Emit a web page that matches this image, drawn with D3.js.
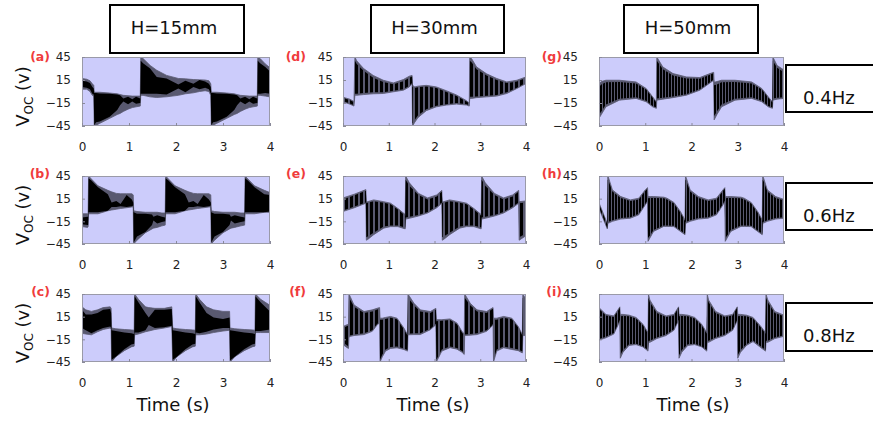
<!DOCTYPE html>
<html><head><meta charset="utf-8">
<script src="https://cdn.jsdelivr.net/npm/d3@7"></script>
<style>
body{margin:0;background:#fff;}
svg{display:block;}
</style></head><body>
<svg id="c" width="873" height="423"></svg>
<script>
const timeTicks = [0, 1, 2, 3, 4];
const voltTicks = [-45, -15, 15, 45];
const heightLabels = ["H=15mm", "H=30mm", "H=50mm"];
const freqLabels = ["0.4Hz", "0.6Hz", "0.8Hz"];
const panelLabels = [["(a)", "(b)", "(c)"], ["(d)", "(e)", "(f)"], ["(g)", "(h)", "(i)"]];

// rows: [time (s), outer upper V, outer lower V, inner upper V, inner lower V]
const panelA = [
  [0.00, 17, 3, 14, 6], [0.10, 16, 3, 13, 5], [0.17, 14, 0, 11, 3], [0.22, 10, -5, 6, -3], [0.25, 8, -6, 4, -4],
  [0.26, -1, -45, -2, -44], [0.30, -1, -44, -2, -40], [0.38, -1, -41.5, -2.5, -39], [0.59, -2, -35, -3, -33],
  [0.75, -3, -30, -4, -24], [0.81, -4, -28.6, -5, -18], [0.88, -5, -26, -9, -13], [0.98, -5.5, -23, -7, -16.5],
  [1.07, -6, -21, -10, -13], [1.15, -6, -20, -7, -16], [1.24, -6, -19, -9, -15],
  [1.25, 45, -5, 40, -3], [1.30, 43, -5, 37, -3], [1.45, 34, -7, 30, -3], [1.59, 27.7, -7.8, 19, -3],
  [1.80, 21, -6.9, 17, -4], [2.05, 17, -5, 9, 4], [2.20, 16.5, -3, 14, -1], [2.37, 15.6, -1.7, 10, 6],
  [2.50, 15.2, 0, 15, 3], [2.62, 15, 1, 13, 5], [2.70, 14, 0, 10, 3], [2.74, 10, -5, 6, -3],
  [2.75, -1, -45, -2, -44], [2.79, -1, -44, -2, -40], [2.87, -1, -41.5, -2.5, -39], [3.08, -2, -35, -3, -33],
  [3.24, -3, -30, -4, -24], [3.30, -4, -28.6, -5, -18], [3.37, -5, -26, -9, -13], [3.47, -5.5, -23, -7, -16.5],
  [3.56, -6, -21, -10, -13], [3.64, -6, -20, -7, -16], [3.73, -6, -19, -9, -15],
  [3.74, 45, -5, 40, -3], [3.79, 43, -5, 37, -3], [3.90, 36, -6, 32, -2], [4.00, 31, -7, 26, -3]
];
const panelB = [
  [0.00, -5, -22, -10, -19], [0.12, -5, -23, -9, -20], [0.13, -5, -22, -9, -20],
  [0.14, 45, -5, 42, -3], [0.20, 41, -5, 39, -3], [0.34, 32, -5, 30, -3], [0.55, 26, -1, 21, -1],
  [0.63, 24, 0, 10, 4], [0.73, 22, 1, 12, 4], [0.82, 21.5, 2, 8, 5], [0.95, 21.5, 3, 20, 4],
  [1.06, 21.5, 4, 14, 5], [1.09, 20, 4, 10, 6],
  [1.10, -1, -45, -3, -43], [1.17, -2, -40, -5, -35], [1.35, -3, -30, -5, -29], [1.49, -3, -25, -6, -20],
  [1.52, -3, -24, -9, -14], [1.60, -3, -23, -7, -18], [1.70, -4, -21, -9, -16], [1.77, -4, -20, -10, -15],
  [1.78, 45, -5, 42, -3], [1.84, 41, -5, 39, -3], [1.98, 32, -5, 30, -3], [2.19, 26, -1, 21, -1],
  [2.27, 24, 0, 10, 4], [2.37, 22, 1, 12, 4], [2.46, 21.5, 2, 8, 5], [2.59, 21.5, 3, 20, 4],
  [2.70, 21.5, 4, 14, 5], [2.74, 20, 4, 10, 6],
  [2.75, -1, -45, -3, -43], [2.82, -2, -40, -5, -35], [3.00, -3, -30, -5, -29], [3.14, -3, -25, -6, -20],
  [3.17, -3, -24, -9, -14], [3.25, -3, -23, -7, -18], [3.38, -4, -21, -9, -16], [3.46, -4, -20, -10, -15],
  [3.47, 45, -5, 42, -3], [3.53, 41, -5, 39, -3], [3.67, 32, -5, 30, -3], [3.88, 26, -3, 21, -3],
  [4.00, 23, -3, 20, -2]
];
const panelC = [
  [0.00, 28, -7, 24, 0], [0.08, 24, -8, 18, -3], [0.20, 22, -9, 18, -7], [0.33, 24, -5, 20, -3],
  [0.45, 27, -2, 24, 0], [0.60, 28, 0, 25, 2], [0.62, 26, -2, 20, 0],
  [0.63, 0, -45, -3, -42], [0.72, -1, -38, -4, -38], [0.90, -2, -30, -6, -28], [1.05, -2.5, -25, -7, -22],
  [1.11, -3, -24, -8, -21],
  [1.12, 45, -9, 42, -6], [1.20, 38, -8, 34, -6], [1.35, 28, -5, 20, -3], [1.42, 27, -4, 14, 4],
  [1.55, 26, -2, 24, 0], [1.75, 26, 0, 24, 1], [1.91, 28, 2, 25, 3],
  [1.93, 0, -45, -3, -42], [2.02, -1, -38, -4, -38], [2.20, -2, -30, -6, -28], [2.35, -2.5, -25, -7, -22],
  [2.41, -3, -24, -8, -21],
  [2.42, 45, -9, 42, -6], [2.50, 38, -9, 34, -7], [2.65, 28, -8, 20, -5], [2.80, 24, -6, 14, -2],
  [3.00, 22, -4, 12, 0], [3.14, 22, -3, 14, 0],
  [3.15, 0, -45, -3, -43], [3.25, -1, -38, -4, -38], [3.45, -2, -30, -6, -28], [3.62, -2.5, -25, -7, -22],
  [3.68, -3, -24, -8, -21],
  [3.69, 45, -6, 42, -4], [3.80, 38, -6, 34, -4], [4.00, 30, -6, 22, -2]
];
const panelD = [
  [0.00, -7.5, -13.5, -8.5, -12.5], [0.15, -10, -16.5, -11, -15.5], [0.24, -13, -19, -14, -18],
  [0.26, 45, -5, 40, -3], [0.30, 40, -5, 36, -3], [0.45, 30, -4, 27, -2], [0.66, 21, -3, 18, -1],
  [0.88, 14.7, -2.6, 12.5, -1], [1.10, 11.2, -0.4, 9.5, 1], [1.32, 15.6, 1.7, 13.5, 3],
  [1.45, 20, 6, 18, 7.5], [1.51, 21, 10, 19.5, 11],
  [1.52, 8, -45, 6, -42], [1.57, 6, -40, 4.5, -37], [1.64, 7, -34, 5.5, -31], [1.82, 8, -25, 6.5, -23],
  [2.04, 6, -20, 4.5, -18.5], [2.26, 1, -17.7, -0.5, -16.5], [2.48, -4.5, -16.4, -6, -15],
  [2.70, -12, -17.7, -13, -16.5], [2.76, -15, -19, -15.5, -18],
  [2.77, 45, -9, 40, -7], [2.81, 43, -9, 38, -7], [2.92, 32, -8, 29, -6.5], [3.14, 23, -7, 21, -5.5],
  [3.36, 17, -6, 15, -4.5], [3.58, 12.5, -2.6, 11, -1], [3.80, 14.7, 3.9, 13, 5], [4.00, 19, 10.4, 17.5, 11.5]
];
const panelE = [
  [0.00, 16, -2, 14, -0.5], [0.25, 21, 3, 19.5, 4.5], [0.50, 27, 9, 25.5, 10],
  [0.51, 11, -40, 9, -36], [0.54, 11, -39, 9.5, -35], [0.67, 13.4, -32.7, 11.5, -30], [0.89, 11, -24, 9.5, -22],
  [1.04, 9, -22, 7.5, -20.5], [1.20, 2, -22, 0.5, -20.5], [1.36, -6, -25, -7.5, -23],
  [1.37, 45, -12, 40, -10], [1.45, 36, -11, 32, -9], [1.65, 22, -8, 20, -6.5], [1.85, 16, -4, 14, -2.5],
  [2.05, 20, 3, 18, 4.5], [2.16, 26, 9, 24.5, 10],
  [2.17, 11, -40, 9, -36], [2.20, 11, -39, 9.5, -35], [2.33, 13.4, -32.7, 11.5, -30], [2.55, 11, -24, 9.5, -22],
  [2.70, 9, -22, 7.5, -20.5], [2.86, 2, -22, 0.5, -20.5], [3.02, -6, -25, -7.5, -23],
  [3.03, 45, -12, 40, -10], [3.11, 36, -11, 32, -9], [3.31, 22, -8, 20, -6.5], [3.51, 16, -4, 14, -2.5],
  [3.71, 20, 3, 18, 4.5], [3.84, 26, 9, 24.5, 10],
  [3.85, 11, -40, 9, -36], [4.00, 12, -34, 10, -31]
];
const panelF = [
  [0.00, 2, -22, 0, -19], [0.09, 4.4, -26, 2.5, -23], [0.12, 5, -27, 3, -24],
  [0.13, 45, -12, 40, -10], [0.17, 40, -11, 36, -9.5], [0.24, 30.6, -10, 28, -8.5], [0.46, 21.8, -8.7, 20, -7],
  [0.64, 24, -4.4, 22, -3], [0.75, 26.2, 4.4, 24.5, 5.5], [0.80, 27, 6.6, 25.5, 7.5],
  [0.81, 13, -45, 11, -42], [0.86, 13, -38, 11, -35], [0.93, 14, -30.6, 12, -28.5], [1.04, 15.3, -27, 13.5, -25],
  [1.18, 13, -26.2, 11.5, -24.5], [1.33, 0, -28.4, -1.5, -27], [1.41, -8.7, -30.6, -10, -29],
  [1.42, 45, -9, 40, -7.5], [1.55, 32.8, -8.7, 30, -7], [1.69, 24, -8.7, 22, -7], [1.91, 21.8, -2.2, 20, -1],
  [2.03, 26, 4.4, 24.5, 5.5],
  [2.04, 11, -45, 9, -42], [2.16, 11, -30.6, 9.5, -28.5], [2.34, 12, -26, 10.5, -24.5], [2.49, 6.6, -28, 5, -26.5],
  [2.60, -4.4, -32, -6, -30.5], [2.65, -8, -35, -9.5, -33],
  [2.66, 45, -10, 40, -8.5], [2.78, 32.8, -9.5, 30, -8], [2.93, 24, -8.7, 22, -7], [3.14, 21.8, -4.4, 20, -3],
  [3.25, 26, 2, 24.5, 3], [3.28, 27, 4.4, 25.5, 5.5],
  [3.29, 13, -45, 11, -42], [3.36, 13, -30.6, 11, -28.5], [3.51, 15.3, -26.2, 13.5, -24.5], [3.69, 13, -28.4, 11.5, -26.5],
  [3.83, 2, -30, 0.5, -28.5], [3.92, -8.7, -33, -10, -31],
  [3.93, 45, -10, 40, -8.5], [4.00, 38, -10, 34, -8.5]
];
const panelG = [
  [0.00, 10, -35, 6, -30], [0.05, 13, -30, 9, -26], [0.15, 14.7, -20, 12, -17], [0.44, 14.7, -11.3, 12.5, -9.5],
  [0.80, 12.5, -9, 10.5, -7.5], [1.02, 3.9, -13.4, 2.5, -12], [1.16, -7, -20, -8, -19], [1.24, -13.4, -22, -14.5, -21],
  [1.25, 45, -11.3, 40, -9], [1.38, 32, -10, 29, -8], [1.60, 23.4, -8, 21, -6.5], [1.89, 19, -4.8, 17, -3.5],
  [2.18, 18.2, 1.7, 16.5, 3], [2.40, 23.4, 11.2, 22, 12], [2.48, 25, 14.7, 24, 15.5],
  [2.49, 12, -37, 8, -32], [2.55, 13, -30, 9, -26], [2.65, 14.7, -20, 12, -17], [2.94, 14.7, -11.3, 12.5, -9.5],
  [3.30, 12.5, -9, 10.5, -7.5], [3.52, 3.9, -13.4, 2.5, -12], [3.66, -7, -20, -8, -19], [3.75, -13.4, -22, -14.5, -21],
  [3.76, 45, -11.3, 40, -9], [3.85, 34, -10, 31, -8], [4.00, 28, -9, 25, -7.5]
];
const panelH = [
  [0.00, 9.5, 2, 8, 3.5], [0.18, -18, -25, -19, -24],
  [0.19, 45, -17.3, 40, -15.5], [0.21, 42, -17.3, 38, -15.5], [0.29, 26.6, -15, 24.5, -13.5], [0.47, 17.8, -12, 16, -10.5],
  [0.68, 13.4, -10.8, 12, -9.5], [0.86, 15.6, -6.4, 14, -5], [1.00, 26.6, 6.8, 25, 8], [1.05, 29.6, 11.2, 28.5, 12.5],
  [1.06, 17.8, -41.5, 15.5, -37], [1.11, 17.8, -36, 16, -33], [1.18, 17.8, -28.3, 16, -26.5], [1.40, 17, -21.7, 15.5, -20.5],
  [1.47, 15.6, -21.7, 14, -20.5], [1.62, 10, -22, 8.5, -21], [1.76, -2, -28.3, -3.5, -27], [1.86, -13, -32.7, -14.5, -31.5],
  [1.87, 45, -17.3, 40, -15.5], [1.89, 42, -17.3, 38, -15.5], [1.97, 26.6, -15, 24.5, -13.5], [2.15, 17.8, -12, 16, -10.5],
  [2.36, 13.4, -10.8, 12, -9.5], [2.54, 15.6, -6.4, 14, -5], [2.68, 26.6, 6.8, 25, 8], [2.72, 29.6, 11.2, 28.5, 12.5],
  [2.73, 17.8, -41.5, 15.5, -37], [2.78, 17.8, -36, 16, -33], [2.85, 17.8, -28.3, 16, -26.5], [3.07, 17, -21.7, 15.5, -20.5],
  [3.14, 15.6, -21.7, 14, -20.5], [3.29, 10, -22, 8.5, -21], [3.43, -2, -28.3, -3.5, -27], [3.53, -13, -32.7, -14.5, -31.5],
  [3.54, 45, -17.3, 40, -15.5], [3.56, 42, -17.3, 38, -15.5], [3.64, 26.6, -15, 24.5, -13.5], [3.82, 17.8, -12, 16, -10.5],
  [4.00, 14, -10.8, 12.5, -9.5]
];
const panelI = [
  [0.00, 27, -16, 25, -14.5], [0.15, 18, -13, 16.5, -11.5], [0.32, 16, -8, 14.5, -6.5], [0.42, 25, 5, 23.5, 6.5],
  [0.45, 28, 10, 27, 11],
  [0.46, 18, -40, 15.5, -36], [0.52, 18, -32, 16, -29], [0.65, 17, -23, 15.5, -21.5], [0.80, 14, -22, 12.5, -21],
  [0.95, 5, -25, 3.5, -24], [1.06, -6, -30.6, -7.5, -29],
  [1.07, 45, -19, 40, -17], [1.10, 37, -19, 34, -17], [1.25, 22, -14, 20, -12.5], [1.45, 16, -10, 14.5, -8.5],
  [1.62, 18, -3, 16.5, -1.5], [1.72, 28, 10, 27, 11],
  [1.73, 18, -40, 15.5, -36], [1.79, 18, -32, 16, -29], [1.92, 17, -23, 15.5, -21.5], [2.07, 14, -22, 12.5, -21],
  [2.22, 5, -25, 3.5, -24], [2.33, -6, -30.6, -7.5, -29],
  [2.34, 45, -19, 40, -17], [2.37, 37, -19, 34, -17], [2.52, 22, -14, 20, -12.5], [2.72, 16, -10, 14.5, -8.5],
  [2.89, 18, -3, 16.5, -1.5], [2.99, 28, 10, 27, 11],
  [3.00, 18, -40, 15.5, -36], [3.06, 18, -32, 16, -29], [3.19, 17, -23, 15.5, -21.5], [3.33, 14, -18, 12.5, -16.5],
  [3.50, 2, -26, 0.5, -24.5], [3.60, -6, -30.6, -7.5, -29],
  [3.61, 45, -19, 40, -17], [3.65, 37, -19, 34, -17], [3.80, 22, -14, 20, -12.5], [4.00, 17, -11, 15.5, -9.5]
];
const panels = [[panelA, panelB, panelC], [panelD, panelE, panelF], [panelG, panelH, panelI]];

// ---------- layout ----------
const colX = [[82, 270], [343, 526], [599, 784]];
const rowY = [[57, 126], [176, 244], [294, 362]];
const yTickPad = [11, 10, 21];
const labelRight = [50, 306, 562];
const timeCenter = [173, 433, 693];
const hBoxes = [[110, 244], [371, 504], [624, 758]];
const fBoxesY = [[65, 112], [183, 230], [303, 351]];

const bgColor = "#ccccfb", envColor = "#595970";
const svg = d3.select("#c");
const defs = svg.append("defs");
function stripe(id, w, bw) {
  const p = defs.append("pattern").attr("id", id).attr("patternUnits", "userSpaceOnUse")
    .attr("width", w).attr("height", 10);
  p.append("rect").attr("width", w).attr("height", 10).attr("fill", envColor);
  p.append("rect").attr("width", bw).attr("height", 10).attr("fill", "#000");
}
stripe("s2", 5, 3);
stripe("s3", 3, 2);
const innerFill = ["#000", "url(#s2)", "url(#s3)"];
const font = "'DejaVu Sans', Verdana, sans-serif";

colX.forEach(([x0, x1], c) => {
  rowY.forEach(([y0, y1], r) => {
    const data = panels[c][r];
    const x = d3.scaleLinear().domain([0, 4]).range([x0, x1]);
    const y = d3.scaleLinear().domain([-45, 45]).range([y1, y0]);
    const g = svg.append("g");
    const cid = `clip${c}${r}`;
    defs.append("clipPath").attr("id", cid).append("rect")
      .attr("x", x0).attr("y", y0).attr("width", x1 - x0).attr("height", y1 - y0);
    g.append("rect").attr("x", x0).attr("y", y0).attr("width", x1 - x0).attr("height", y1 - y0)
      .attr("fill", bgColor);
    const pg = g.append("g").attr("clip-path", `url(#${cid})`);
    pg.append("path").datum(data)
      .attr("d", d3.area().x(d => x(d[0])).y0(d => y(d[2])).y1(d => y(d[1])))
      .attr("fill", envColor).attr("stroke", envColor).attr("stroke-width", 0.8);
    pg.append("path").datum(data)
      .attr("d", d3.area().x(d => x(d[0])).y0(d => y(d[4])).y1(d => y(d[3])))
      .attr("fill", innerFill[c]);
    g.append("rect").attr("x", x0 + 0.5).attr("y", y0 + 0.5).attr("width", x1 - x0 - 1).attr("height", y1 - y0 - 1)
      .attr("fill", "none").attr("stroke", "#9a9aa8").attr("stroke-width", 1);

    const xa = g.append("g").attr("transform", `translate(0,${y1})`)
      .call(d3.axisBottom(x).tickValues(timeTicks).tickFormat(d3.format("d"))
        .tickSizeInner(-3).tickSizeOuter(0).tickPadding(16));
    const ya = g.append("g").attr("transform", `translate(${x0},0)`)
      .call(d3.axisLeft(y).tickValues(voltTicks).tickFormat(d3.format("d"))
        .tickSizeInner(-3).tickSizeOuter(0).tickPadding(yTickPad[c]));
    [xa, ya].forEach(a => {
      a.select(".domain").remove();
      a.selectAll("line").attr("stroke", "#8a8a9a");
      a.selectAll("text").attr("font-family", font).attr("font-size", 12).attr("fill", "#222");
    });

    g.append("text").attr("x", labelRight[c]).attr("y", y0 + 4 - (r > 0 ? 2 : 0))
      .attr("text-anchor", "end").attr("font-family", font).attr("font-weight", "bold")
      .attr("font-size", 12.5).attr("fill", "#f03c3c").text(panelLabels[c][r]);

    if (c === 0) {
      const t = svg.append("text")
        .attr("transform", `translate(29,${(y0 + y1) / 2 + 5}) rotate(-90)`)
        .attr("text-anchor", "middle").attr("font-family", font).attr("font-size", 18).attr("fill", "#111");
      t.append("tspan").text("V");
      t.append("tspan").attr("font-size", 12).attr("dy", 4).text("OC");
      t.append("tspan").attr("dy", -4).text(" (v)");
    }
  });
  svg.append("text").attr("x", timeCenter[c]).attr("y", 411).attr("text-anchor", "middle")
    .attr("font-family", font).attr("font-size", 18).attr("fill", "#111").text("Time (s)");
  const [bx0, bx1] = hBoxes[c];
  svg.append("rect").attr("x", bx0).attr("y", 5).attr("width", bx1 - bx0).attr("height", 48)
    .attr("fill", "#fff").attr("stroke", "#000").attr("stroke-width", 2);
  svg.append("text").attr("x", (bx0 + bx1) / 2 - 3).attr("y", 34).attr("text-anchor", "middle")
    .attr("font-family", font).attr("font-size", 18).attr("fill", "#111").text(heightLabels[c]);
});

fBoxesY.forEach(([by0, by1], r) => {
  svg.append("rect").attr("x", 786).attr("y", by0).attr("width", 100).attr("height", by1 - by0)
    .attr("fill", "#fff").attr("stroke", "#000").attr("stroke-width", 2);
  svg.append("text").attr("x", 803).attr("y", (by0 + by1) / 2 + 15).attr("font-family", font)
    .attr("font-size", 18).attr("fill", "#111").text(freqLabels[r]);
});
</script>
</body></html>
